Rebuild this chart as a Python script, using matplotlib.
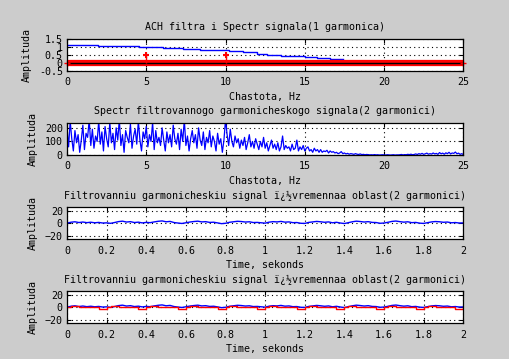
import matplotlib.pyplot as plt
import numpy as np

plt.rcParams["font.family"] = "DejaVu Sans Mono"
plt.rcParams["font.size"] = 7.2
plt.rcParams["axes.titlesize"] = 7.2
plt.rcParams["axes.labelsize"] = 7.2

# --- axes 1: filter response (staircase) and harmonic stems
afc_edges = [0.0, 1.97, 4.54, 6.04, 7.32, 8.39, 10.22, 11.1, 11.99, 12.6,
             13.5, 14.26, 15.0, 15.8, 16.6, 17.4]
afc_vals = [1.13, 1.05, 0.99, 0.92, 0.86, 0.80, 0.74, 0.66, 0.58, 0.52,
            0.46, 0.40, 0.34, 0.28, 0.22]
harm_freqs = [5, 10]
harm_amps = [0.5, 0.5]
band_x = [0, 25]
band_y = [0, 0]

# --- axes 2: spectrum of filtered signal, 0.1 Hz step
spec_step = 0.1
spec_vals = [
    200, 60, 250, 120, 30, 180, 90, 150, 20, 110,
    220, 40, 160, 130, 260, 70, 190, 50, 140, 100,
    250, 80, 170, 30, 210, 120, 60, 240, 90, 160,
    40, 200, 110, 260, 70, 150, 20, 180, 130, 90,
    230, 50, 140, 190, 80, 250, 110, 30, 170, 120,
    210, 60, 150, 100, 240, 40, 180, 90, 130, 70,
    200, 110, 30, 170, 90, 150, 60, 220, 120, 80,
    160, 40, 190, 100, 260, 70, 140, 30, 120, 180,
    90, 150, 50, 200, 110, 70, 170, 40, 130, 90,
    180, 60, 140, 100, 30, 160, 80, 120, 20, 110,
    260, 150, 70, 190, 100, 60, 140, 90, 120, 50,
    110, 70, 130, 40, 90, 150, 60, 100, 50, 120,
    80, 40, 100, 60, 130, 50, 90, 30, 70, 110,
    50, 80, 40, 90, 30, 60, 140, 40, 70, 50,
    60, 30, 80, 40, 50, 110, 30, 60, 40, 70,
    30, 50, 60, 30, 40, 20, 50, 30, 40, 20,
    40, 20, 30, 25, 35, 15, 30, 20, 25, 15,
    20, 10, 15, 25, 10, 15, 8, 12, 6, 10,
    8, 5, 10, 6, 4, 8, 3, 5, 2, 4,
    3, 1, 2, 1, 3, 1, 2, 0, 1, 2,
    1, 0, 2, 1, 0, 1, 2, 0, 1, 1,
    2, 4, 1, 3, 2, 5, 3, 6, 2, 4,
    8, 4, 10, 6, 12, 5, 9, 14, 6, 10,
    7, 15, 8, 12, 5, 18, 9, 14, 6, 16,
    10, 20, 8, 15, 12, 22, 9, 14, 5, 10,
    4,
]

# --- axes 3/4: time signals, 0.02 s step
t_step = 0.02
filt_sig = [
    0.0, 1.5, 2.2, 1.0, 1.8, 0.8, 1.5, 0.6, 1.2, 0.2,
    0.5, -0.3, 1.0, 2.5, 3.2, 1.8, 2.4, 1.0, 1.6, 0.4,
    1.2, 0.8, 2.0, 3.0, 3.6, 2.2, 2.8, 1.0, 0.2, -0.5,
    0.6, 1.8, 2.6, 3.2, 2.0, 2.4, 1.2, 1.5, 0.4, -0.8,
    -0.2, 1.4, 2.2, 3.0, 2.6, 1.8, 2.2, 1.0, 1.2, 0.6,
    0.0, 1.6, 2.4, 2.0, 2.8, 1.6, 2.0, 0.8, 1.0, -0.2,
    -0.4, 1.2, 2.0, 2.8, 2.2, 1.4, 2.0, 0.6, 1.4, 0.2,
    -0.6, 0.8, 2.2, 3.2, 2.6, 1.8, 2.4, 1.2, 1.0, -0.2,
    0.2, 1.4, 2.8, 3.4, 2.4, 1.6, 2.2, 0.8, 1.2, 0.0,
    -0.4, 0.8, 2.0, 2.6, 2.2, 1.4, 1.8, 0.6, 1.0, 0.2,
    0.4,
]
ref_sig = [
    0, 2.3, 2.3, 0.5, -0.5, 0, 0.5, -0.5, -2.3, -2.3,
    0, 2.3, 2.3, 0.5, -0.5, 0, 0.5, -0.5, -2.3, -2.3,
    0, 2.3, 2.3, 0.5, -0.5, 0, 0.5, -0.5, -2.3, -2.3,
    0, 2.3, 2.3, 0.5, -0.5, 0, 0.5, -0.5, -2.3, -2.3,
    0, 2.3, 2.3, 0.5, -0.5, 0, 0.5, -0.5, -2.3, -2.3,
    0, 2.3, 2.3, 0.5, -0.5, 0, 0.5, -0.5, -2.3, -2.3,
    0, 2.3, 2.3, 0.5, -0.5, 0, 0.5, -0.5, -2.3, -2.3,
    0, 2.3, 2.3, 0.5, -0.5, 0, 0.5, -0.5, -2.3, -2.3,
    0, 2.3, 2.3, 0.5, -0.5, 0, 0.5, -0.5, -2.3, -2.3,
    0, 2.3, 2.3, 0.5, -0.5, 0, 0.5, -0.5, -2.3, -2.3,
    0,
]

BG = "#cccccc"
BLUE = "#0000ff"
RED = "#ff0000"
TIME_TITLE = "Filtrovanniu garmonicheskiu signal ï¿½vremennaa oblast(2 garmonici)"


def style_axes(ax):
    ax.set_facecolor("white")
    ax.grid(True, color="black", linestyle=(0, (1, 3)), linewidth=0.8)
    ax.tick_params(direction="in", top=True, right=True, length=3, width=0.8)
    ax.tick_params(axis="x", pad=4.5)
    ax.tick_params(axis="y", pad=3)
    for sp in ax.spines.values():
        sp.set_linewidth(0.9)


fig = plt.figure(figsize=(5.1, 3.59), dpi=100, facecolor=BG)
left, width, h = 0.1314, 0.777, 0.09
ax1 = fig.add_axes([left, 0.8022, width, h])
ax2 = fig.add_axes([left, 0.5682, width, h])
ax3 = fig.add_axes([left, 0.3334, width, h])
ax4 = fig.add_axes([left, 0.0994, width, h])

# axes 1
ax1.plot(afc_edges, afc_vals + afc_vals[-1:], drawstyle="steps-post", color=BLUE, lw=1)
ax1.plot(band_x, band_y, color=RED, lw=4.5, solid_capstyle="butt")
ax1.plot(band_x, band_y, color="black", lw=1)
ax1.vlines(harm_freqs, 0, harm_amps, color=RED, lw=1)
ax1.plot(harm_freqs, harm_amps, "+", color=RED, ms=5, mew=1.5)
ax1.plot(band_x, band_y, "+", color=RED, ms=4, mew=1, clip_on=False)
ax1.set_xlim(0, 25)
ax1.set_ylim(-0.5, 1.5)
ax1.set_yticks([-0.5, 0, 0.5, 1, 1.5])
ax1.set_yticklabels(["-0.5", "0", "0.5", "1", "1.5"])
ax1.set_title("ACH filtra i Spectr signala(1 garmonica)", pad=6)
ax1.set_xlabel("Chastota, Hz", labelpad=3.5)
ax1.set_ylabel("Amplituda", labelpad=5)
style_axes(ax1)

# axes 2
freqs = np.arange(len(spec_vals)) * spec_step
ax2.plot(freqs, spec_vals, color=BLUE, lw=0.9)
ax2.set_xlim(0, 25)
ax2.set_ylim(0, 238)
ax2.set_yticks([0, 100, 200])
ax2.set_title("Spectr filtrovannogo garmonicheskogo signala(2 garmonici)", pad=6)
ax2.set_xlabel("Chastota, Hz", labelpad=3.5)
ax2.set_ylabel("Amplituda", labelpad=5)
style_axes(ax2)

# axes 3 and 4
t = np.arange(len(filt_sig)) * t_step
ax3.plot(t, filt_sig, color=BLUE, lw=1)
ax4.plot(t, filt_sig, color=BLUE, lw=1)
ax4.plot(t, ref_sig, color=RED, lw=1, drawstyle="steps-post")
for ax in (ax3, ax4):
    ax.set_xlim(0, 2)
    ax.set_ylim(-26, 26)
    ax.set_yticks([-20, 0, 20])
    ax.set_xticks(np.arange(0, 2.01, 0.2))
    ax.set_xticklabels(["0", "0.2", "0.4", "0.6", "0.8", "1", "1.2", "1.4", "1.6", "1.8", "2"])
    ax.set_title(TIME_TITLE, pad=6)
    ax.set_xlabel("Time, sekonds", labelpad=3.5)
    ax.set_ylabel("Amplituda", labelpad=5)
    style_axes(ax)

fig.savefig("out.png", dpi=100, facecolor=BG)
